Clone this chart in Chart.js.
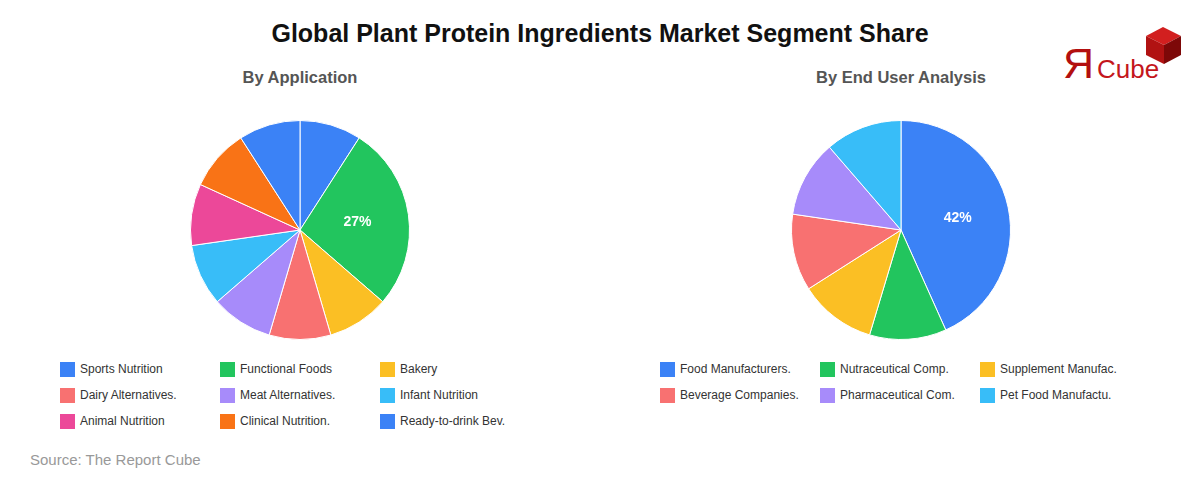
<!DOCTYPE html>
<html lang="en">
<head>
    <meta charset="UTF-8">
    <title>Global Plant Protein Ingredients Market Segment Share</title>
    <style>
        body { margin: 0; font-family: Arial, "Liberation Sans", sans-serif; background: #fff; }
        #page { position: relative; width: 1200px; height: 480px; overflow: hidden; }
        h1 { position: absolute; top: 19px; left: 0; width: 1200px; margin: 0; text-align: center;
             font-size: 25px; font-weight: bold; color: #111; }
        .sub { position: absolute; top: 68px; width: 600px; text-align: center; font-size: 16.5px;
               font-weight: bold; color: #555; }
        .box { position: absolute; top: 110px; width: 600px; height: 240px; }
        .legend { position: absolute; top: 361px; display: grid; grid-template-columns: 160px 160px 160px;
                  row-gap: 10px; font-size: 12px; color: #333; }
        .legend div { display: flex; align-items: center; height: 16px; }
        .legend span { display: inline-block; width: 15px; height: 15px; margin-right: 5px; }
        #source { position: absolute; left: 30px; top: 451px; font-size: 15px; color: #999; }
        #logo { position: absolute; left: 1060px; top: 26px; width: 125px; height: 60px; }
        #logo .r { position: absolute; left: 3px; top: 16px; font-size: 43px; color: #b30f0f; line-height: 43px; }
        #logo .c { position: absolute; left: 37px; top: 30px; font-size: 26px; color: #c4161c; line-height: 26px; }
    </style>
    <script src="https://cdn.jsdelivr.net/npm/chart.js@4"></script>
</head>
<body>
<div id="page">
    <h1>Global Plant Protein Ingredients Market Segment Share</h1>
    <div id="logo">
        <svg width="125" height="60" style="position:absolute;left:0;top:0">
            <polygon points="86,10 103,1 121,10 104,19" fill="#d21f1f"/>
            <polygon points="86,10 104,19 104,38 86,29" fill="#b11212"/>
            <polygon points="104,19 121,10 121,29 104,38" fill="#7d0808"/>
        </svg>
        <div class="r">Я</div>
        <div class="c">Cube</div>
    </div>

    <div class="sub" style="left:0">By Application</div>
    <div class="sub" style="left:601px">By End User Analysis</div>
    <div class="box" style="left:0"><canvas id="appChart"></canvas></div>
    <div class="box" style="left:601px"><canvas id="userChart"></canvas></div>
    <div class="legend" id="appLegend" style="left:60px"></div>
    <div class="legend" id="userLegend" style="left:660px"></div>

    <div id="source">Source: The Report Cube</div>
</div>

<script>
    // By Application
    const appLabels = ['Sports Nutrition', 'Functional Foods', 'Bakery', 'Dairy Alternatives.',
        'Meat Alternatives.', 'Infant Nutrition', 'Animal Nutrition', 'Clinical Nutrition.', 'Ready-to-drink Bev.'];
    const appValues = [9, 27, 9, 9, 9, 9, 9, 9, 9];
    const appColors = ['#3B82F6', '#22C55E', '#FBBF24', '#F87171', '#A78BFA', '#38BDF8', '#EC4899', '#F97316', '#3B82F6'];

    // By End User
    const userLabels = ['Food Manufacturers.', 'Nutraceutical Comp.', 'Supplement Manufac.',
        'Beverage Companies.', 'Pharmaceutical Com.', 'Pet Food Manufactu.'];
    const userValues = [42, 11, 11, 11, 11, 11];
    const userColors = ['#3B82F6', '#22C55E', '#FBBF24', '#F87171', '#A78BFA', '#38BDF8'];

    // write the % on big slices only
    const sliceLabels = {
        id: 'sliceLabels',
        afterDatasetsDraw(chart) {
            const ctx = chart.ctx;
            const meta = chart.getDatasetMeta(0);
            const data = chart.data.datasets[0].data;
            ctx.save();
            ctx.fillStyle = '#fff';
            ctx.font = 'bold 14px Arial, "Liberation Sans", sans-serif';
            ctx.textAlign = 'center';
            ctx.textBaseline = 'middle';
            meta.data.forEach((arc, i) => {
                if (data[i] < 20) return;
                const mid = (arc.startAngle + arc.endAngle) / 2;
                const r = arc.outerRadius * 0.53;
                ctx.fillText(data[i] + '%', arc.x + Math.cos(mid) * r, arc.y + Math.sin(mid) * r);
            });
            ctx.restore();
        }
    };

    function makePie(id, labels, values, colors) {
        new Chart(document.getElementById(id), {
            type: 'pie',
            data: {
                labels: labels,
                datasets: [{ data: values, backgroundColor: colors, borderColor: '#fff', borderWidth: 1 }]
            },
            options: {
                responsive: true,
                maintainAspectRatio: false,
                animation: false,
                layout: { padding: 10 },
                plugins: { legend: { display: false }, tooltip: { enabled: false } }
            },
            plugins: [sliceLabels]
        });
    }

    function makeLegend(id, labels, colors) {
        const el = document.getElementById(id);
        labels.forEach((l, i) => {
            const item = document.createElement('div');
            item.innerHTML = `<span style="background:${colors[i]}"></span>${l}`;
            el.appendChild(item);
        });
    }

    makePie('appChart', appLabels, appValues, appColors);
    makePie('userChart', userLabels, userValues, userColors);
    makeLegend('appLegend', appLabels, appColors);
    makeLegend('userLegend', userLabels, userColors);
</script>
</body>
</html>
